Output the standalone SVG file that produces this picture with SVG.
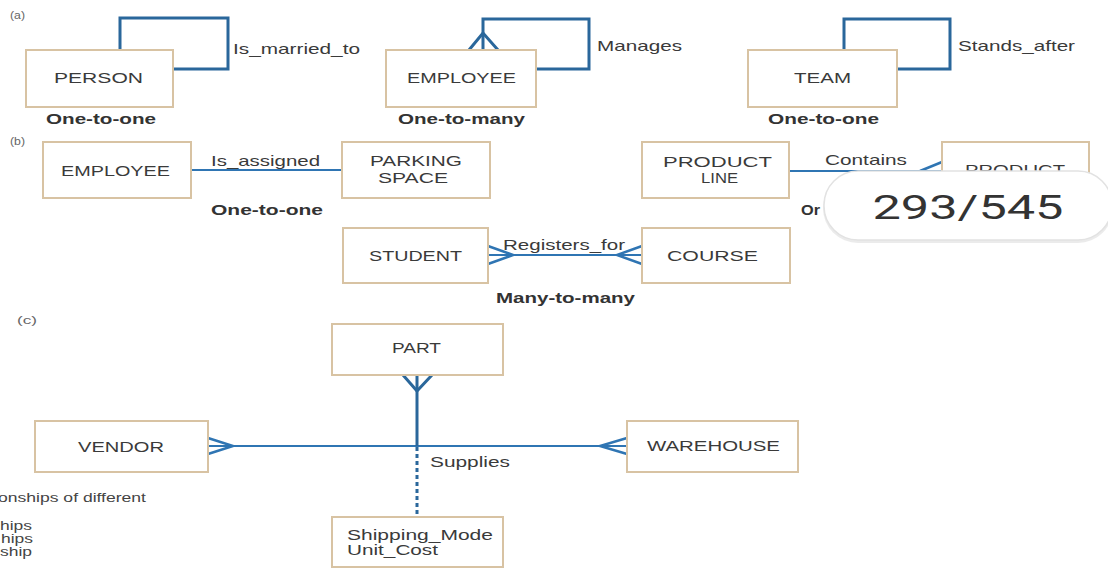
<svg xmlns="http://www.w3.org/2000/svg" width="1108" height="571" viewBox="0 0 1108 571">
<style>
.box{fill:#fff;stroke:#d8c3a3;stroke-width:2}
.t{font-family:"Liberation Sans",Arial,sans-serif;font-size:14px;fill:#3a3a3a}
.lb{font-family:"Liberation Sans",Arial,sans-serif;font-size:14.5px;fill:#3a3a3a}
.cap{font-family:"Liberation Sans",Arial,sans-serif;font-size:14.5px;font-weight:bold;fill:#333}
.sec{font-family:"Liberation Sans",Arial,sans-serif;font-size:10.5px;fill:#666}
.note{font-family:"Liberation Sans",Arial,sans-serif;font-size:12px;fill:#444}
.loop{fill:none;stroke:#2a679b;stroke-width:3}
.ln{fill:none;stroke:#2f75b3;stroke-width:2.2}
.cf{fill:none;stroke:#2f75b3;stroke-width:2.5}
.dot{fill:none;stroke:#2a679b;stroke-width:3;stroke-dasharray:4 3}
</style>
<rect width="1108" height="571" fill="#fff"/>

<text class="sec" x="10" y="19" textLength="15" lengthAdjust="spacingAndGlyphs">(a)</text>
<text class="sec" x="10" y="145" textLength="15" lengthAdjust="spacingAndGlyphs">(b)</text>
<text class="sec" x="17" y="324" textLength="20" lengthAdjust="spacingAndGlyphs">(c)</text>

<g id="connectors">
  <path class="loop" d="M120,50 V18 H228 V69 H173"/>
  <path class="loop" d="M483,50 V19 H589 V69 H536"/>
  <path class="loop" d="M469,50 L483,33 L498,50"/>
  <path class="loop" d="M844,50 V19 H950 V69 H897"/>
  <path class="ln" d="M191,170 H342"/>
  <path class="ln" d="M789,171 H942"/>
  <path class="cf" d="M920,171 L942,162 M920,171 L942,180"/>
  <path class="ln" d="M488,255 H642"/>
  <path class="cf" d="M488,246 L513,255 L488,264 M642,246 L617,255 L642,264"/>
  <path class="ln" d="M208,446 H627"/>
  <path class="cf" d="M208,438 L233,446 L208,454 M627,438 L600,446 L627,454"/>
  <path class="loop" d="M417,375 V446"/>
  <path class="loop" d="M403,375 L417,391 L432,375"/>
  <path class="dot" d="M417,447 V517"/>
</g>

<g id="person"><rect class="box" x="26" y="50" width="147" height="57"/>
<text class="t" x="54" y="83" textLength="89" lengthAdjust="spacingAndGlyphs">PERSON</text></g>
<text class="lb" x="233" y="54" textLength="127" lengthAdjust="spacingAndGlyphs">Is_married_to</text>
<text class="cap" x="46" y="124" textLength="110" lengthAdjust="spacingAndGlyphs">One-to-one</text>

<g id="employee-a"><rect class="box" x="386" y="50" width="150" height="57"/>
<text class="t" x="407" y="83" textLength="109" lengthAdjust="spacingAndGlyphs">EMPLOYEE</text></g>
<text class="lb" x="597" y="51" textLength="85" lengthAdjust="spacingAndGlyphs">Manages</text>
<text class="cap" x="398" y="124" textLength="127" lengthAdjust="spacingAndGlyphs">One-to-many</text>

<g id="team"><rect class="box" x="748" y="50" width="149" height="57"/>
<text class="t" x="794" y="83" textLength="57" lengthAdjust="spacingAndGlyphs">TEAM</text></g>
<text class="lb" x="958" y="51" textLength="117" lengthAdjust="spacingAndGlyphs">Stands_after</text>
<text class="cap" x="768" y="124" textLength="111" lengthAdjust="spacingAndGlyphs">One-to-one</text>

<g id="employee-b"><rect class="box" x="43" y="142" width="148" height="56"/>
<text class="t" x="61" y="176" textLength="109" lengthAdjust="spacingAndGlyphs">EMPLOYEE</text></g>
<text class="lb" x="211" y="166" textLength="109" lengthAdjust="spacingAndGlyphs">Is_assigned</text>
<g id="parking-space"><rect class="box" x="342" y="142" width="148" height="56"/>
<text class="t" x="370" y="166" textLength="92" lengthAdjust="spacingAndGlyphs">PARKING</text>
<text class="t" x="378" y="183" textLength="70" lengthAdjust="spacingAndGlyphs">SPACE</text></g>
<text class="cap" x="211" y="215" textLength="112" lengthAdjust="spacingAndGlyphs">One-to-one</text>

<g id="product-line"><rect class="box" x="642" y="142" width="147" height="56"/>
<text class="t" x="663" y="167" textLength="109" lengthAdjust="spacingAndGlyphs">PRODUCT</text>
<text class="t" x="701" y="183" textLength="37" lengthAdjust="spacingAndGlyphs">LINE</text></g>
<text class="lb" x="825" y="165" textLength="82" lengthAdjust="spacingAndGlyphs">Contains</text>
<g id="product"><rect class="box" x="942" y="142" width="147" height="56"/>
<text class="t" x="965" y="175" textLength="100" lengthAdjust="spacingAndGlyphs">PRODUCT</text></g>
<text class="cap" x="801" y="215" textLength="19" lengthAdjust="spacingAndGlyphs">Or</text>

<g id="student"><rect class="box" x="343" y="228" width="145" height="55"/>
<text class="t" x="369" y="261" textLength="93" lengthAdjust="spacingAndGlyphs">STUDENT</text></g>
<text class="lb" x="503" y="250" textLength="122" lengthAdjust="spacingAndGlyphs">Registers_for</text>
<g id="course"><rect class="box" x="642" y="228" width="148" height="55"/>
<text class="t" x="667" y="261" textLength="91" lengthAdjust="spacingAndGlyphs">COURSE</text></g>
<text class="cap" x="496" y="303" textLength="139" lengthAdjust="spacingAndGlyphs">Many-to-many</text>

<g id="part"><rect class="box" x="332" y="324" width="171" height="51"/>
<text class="t" x="392" y="353" textLength="49" lengthAdjust="spacingAndGlyphs">PART</text></g>
<g id="vendor"><rect class="box" x="35" y="421" width="173" height="51"/>
<text class="t" x="78" y="452" textLength="86" lengthAdjust="spacingAndGlyphs">VENDOR</text></g>
<g id="warehouse"><rect class="box" x="627" y="421" width="171" height="51"/>
<text class="t" x="647" y="451" textLength="133" lengthAdjust="spacingAndGlyphs">WAREHOUSE</text></g>
<text class="lb" x="430" y="467" textLength="80" lengthAdjust="spacingAndGlyphs">Supplies</text>
<g id="shipping"><rect class="box" x="332" y="517" width="171" height="50"/>
<text class="lb" x="347" y="540" textLength="146" lengthAdjust="spacingAndGlyphs">Shipping_Mode</text>
<text class="lb" x="347" y="555" textLength="91" lengthAdjust="spacingAndGlyphs">Unit_Cost</text></g>

<text class="note" x="-2" y="502" textLength="148" lengthAdjust="spacingAndGlyphs">onships of different</text>
<text class="note" x="0" y="530" textLength="32" lengthAdjust="spacingAndGlyphs">hips</text>
<text class="note" x="1" y="543" textLength="32" lengthAdjust="spacingAndGlyphs">hips</text>
<text class="note" x="0" y="556" textLength="32" lengthAdjust="spacingAndGlyphs">ship</text>

<g id="page-badge">
<rect x="823" y="173" width="290" height="70" rx="35" fill="#e6e6e6" opacity="0.8"/>
<rect x="824" y="171" width="288" height="69" rx="34" fill="#fff" stroke="#e2e2e2" stroke-width="1.5"/>
<text x="968" y="219" text-anchor="middle" font-family="Roboto,'Liberation Sans',sans-serif" font-size="33" fill="#333" textLength="191" lengthAdjust="spacingAndGlyphs">293/545</text>
</g>
</svg>
